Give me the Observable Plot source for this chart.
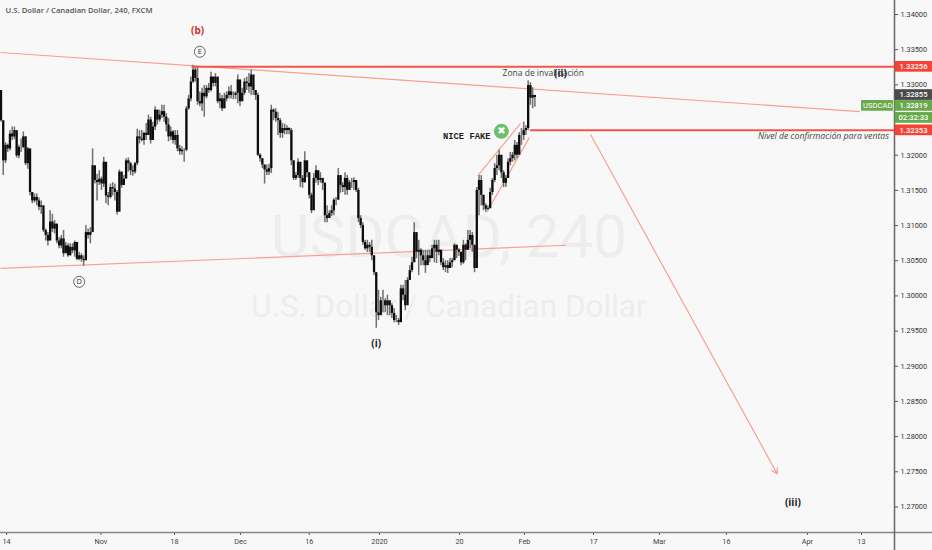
<!DOCTYPE html>
<html>
<head>
<meta charset="utf-8">
<script src="https://cdn.jsdelivr.net/npm/d3@7"></script>
<script src="https://cdn.jsdelivr.net/npm/@observablehq/plot@0.6"></script>
<style>
html,body{margin:0;padding:0;background:#f8f8f8;}
svg{display:block;}
</style>
</head>
<body>
<div id="chart"></div>
<script>
// Prices are quoted in 1/10000 (13292 = 1.3292); one sample every 2 four-hour bars.
const highs = [
13292,13245,13218,13216,13235,13240,13240,13233,13214,13223,
13233,13226,13211,13185,13147,13145,13145,13139,13135,13119,
13095,13090,13121,13116,13107,13102,13083,13086,13093,13076,
13074,13074,13074,13078,13074,13062,13060,13057,13100,13095,
13097,13209,13180,13173,13178,13169,13197,13164,13147,13159,
13161,13159,13150,13179,13164,13171,13195,13196,13190,13185,
13190,13237,13235,13235,13233,13245,13257,13254,13247,13269,
13264,13264,13271,13271,13259,13252,13240,13235,13235,13235,
13214,13212,13209,13269,13285,13311,13328,13326,13326,13290,
13295,13299,13299,13302,13318,13311,13316,13307,13288,13285,
13288,13290,13297,13299,13290,13290,13314,13302,13295,13309,
13311,13316,13321,13302,13292,13288,13202,13195,13186,13186,
13187,13271,13266,13266,13261,13252,13245,13244,13242,13239,
13238,13192,13175,13195,13185,13171,13205,13192,13175,13146,
13174,13185,13175,13175,13167,13161,13128,13121,13128,13138,
13140,13181,13171,13161,13175,13171,13164,13167,13168,13164,
13153,13114,13104,13079,13079,13076,13079,13057,13033,13008,
12998,13008,12996,13001,12993,12989,12982,12972,12968,13015,
13015,13022,13026,13043,13055,13104,13090,13079,13067,13065,
13065,13065,13065,13072,13079,13079,13079,13065,13053,13050,
13050,13053,13053,13074,13072,13067,13062,13079,13074,13093,
13093,13090,13072,13154,13171,13171,13143,13131,13128,13153,
13167,13188,13200,13207,13195,13178,13171,13195,13204,13204,
13221,13218,13232,13238,13247,13242,13306,13303,13296,13285];
const lows = [
13247,13171,13188,13204,13206,13221,13222,13196,13195,13204,
13209,13185,13180,13142,13131,13132,13128,13121,13116,13090,
13078,13071,13081,13090,13088,13074,13067,13067,13055,13062,
13055,13057,13060,13055,13050,13050,13048,13042,13050,13081,
13074,13090,13159,13135,13157,13150,13154,13131,13128,13138,
13142,13135,13115,13140,13153,13159,13171,13176,13171,13170,
13173,13185,13216,13219,13214,13221,13228,13216,13221,13235,
13243,13247,13252,13247,13233,13219,13221,13216,13214,13205,
13200,13200,13190,13205,13264,13276,13302,13304,13271,13269,
13262,13254,13280,13288,13290,13297,13297,13273,13266,13262,
13266,13276,13280,13280,13279,13279,13273,13269,13276,13285,
13292,13288,13285,13285,13278,13198,13190,13181,13159,13171,
13171,13174,13249,13247,13228,13224,13224,13229,13229,13229,
13185,13164,13164,13167,13154,13153,13160,13168,13138,13117,
13146,13160,13157,13160,13150,13104,13104,13111,13113,13114,
13128,13150,13146,13147,13143,13143,13150,13153,13150,13147,
13104,13096,13072,13065,13062,13062,13050,13029,12954,12965,
12972,12976,12976,12972,12972,12968,12962,12962,12958,12962,
12993,12979,13000,13022,13033,13055,13053,13029,13043,13043,
13032,13047,13047,13057,13047,13046,13057,13043,13036,13033,
13032,13039,13040,13050,13053,13056,13043,13045,13050,13065,
13067,13062,13033,13050,13114,13128,13121,13119,13121,13124,
13143,13161,13171,13178,13167,13154,13154,13167,13185,13190,
13192,13195,13207,13214,13221,13228,13235,13271,13266,13268];
const closes = [
13249,13192,13214,13209,13230,13226,13235,13199,13211,13211,
13226,13188,13209,13147,13135,13140,13135,13126,13128,13093,
13086,13078,13105,13095,13102,13078,13071,13081,13060,13071,
13057,13069,13064,13076,13052,13057,13052,13050,13090,13086,
13090,13185,13164,13161,13166,13159,13190,13142,13140,13154,
13152,13147,13119,13176,13157,13166,13192,13188,13178,13176,
13188,13226,13223,13221,13231,13228,13250,13221,13240,13264,
13250,13257,13262,13254,13243,13226,13233,13221,13228,13209,
13205,13207,13207,13266,13280,13304,13321,13309,13276,13273,
13288,13283,13295,13292,13311,13302,13311,13276,13280,13266,
13280,13285,13290,13285,13285,13288,13307,13276,13288,13304,
13302,13297,13314,13292,13285,13200,13195,13186,13179,13176,
13181,13264,13261,13252,13249,13231,13238,13235,13238,13235,
13192,13167,13171,13190,13167,13161,13192,13175,13143,13121,
13167,13178,13164,13167,13160,13114,13110,13117,13121,13136,
13136,13171,13157,13154,13167,13150,13161,13161,13164,13150,
13110,13100,13076,13067,13072,13069,13057,13033,12976,12972,
12993,12993,12986,12993,12986,12975,12965,12965,12962,13010,
13001,12986,13022,13036,13047,13090,13062,13065,13057,13050,
13043,13057,13053,13067,13072,13062,13065,13047,13040,13043,
13039,13047,13050,13072,13065,13062,13047,13072,13065,13079,
13086,13072,13039,13150,13164,13143,13128,13123,13124,13147,
13164,13181,13185,13200,13175,13160,13167,13190,13195,13200,
13214,13200,13228,13228,13235,13238,13299,13281,13285,13282];

const barTicks = [5,89.5,155.3,214.4,276,338.9,410.5,468.7,530.5,589.5,649.5,722,770.4];
const barLabels = ["14","Nov","18","Dec","16","2020","20","Feb","17","Mar","16","Apr","13"];
const priceTicks = [1.34,1.335,1.33,1.32,1.315,1.31,1.305,1.30,1.295,1.29,1.285,1.28,1.275,1.27];

const lineX1 = [-0.45,-0.45,427,435];
const lineY1 = [1.3346,1.3039,1.3171,1.3119];
const lineX2 = [769,506,465,473];
const lineY2 = [1.3262,1.3072,1.3245,1.3225];

const levelPrices = [1.33256,1.32353];
const levelStarts = [171,474];

const waveLabels = ["(b)","(i)","(ii)","(iii)"];
const waveBars = [176,336,501,709];
const wavePrices = [1.33775,1.2932,1.3316,1.2706];
const waveColors = ["#d9302a","#222","#222","#222"];

const circleLabels = ["E","D"];
const circleBars = [178,70];
const circlePrices = [1.3347,1.3020];

const tagLabels = ["1.33256","1.32855","1.32819","02:32:33","1.32353"];
const tagCenters = [1.33256,1.32855,1.32701,1.32530,1.32353];
const tagColors = ["#f44336","#4a4a4a","#68a94a","#68a94a","#f44336"];

const bars = highs.map((h,i)=>({
  bar:i*2,
  high:h/1e4,
  low:lows[i]/1e4,
  open:(i?closes[i-1]:h)/1e4,
  close:closes[i]/1e4
}));
const lines = lineX1.map((x,i)=>({x1:x,y1:lineY1[i],x2:lineX2[i],y2:lineY2[i]}));
const levels = levelPrices.map((p,i)=>({p,start:levelStarts[i]}));
const waves = waveLabels.map((t,i)=>({t,x:waveBars[i],y:wavePrices[i],c:waveColors[i]}));
const circles = circleLabels.map((t,i)=>({t,x:circleBars[i],y:circlePrices[i]}));
const tags = tagLabels.map((t,i)=>({t,y:tagCenters[i],c:tagColors[i]}));

const uiFont = "'Open Sans', sans-serif";
const axisFont = "Roboto, sans-serif";
const salmon = "#f9a092";
const red = "#f4544a";

const chart = Plot.plot({
  width:932,height:550,
  marginLeft:0,marginRight:38,marginTop:0,marginBottom:18,
  style:{background:"#f8f8f8",fontFamily:axisFont},
  x:{domain:[-0.45,800],range:[0,894],label:null},
  y:{domain:[1.26637,1.34199],label:null},
  marks:[
    Plot.text(["USDCAD, 240"],{x:401,y:1.3082,text:d=>d,fontSize:60,fontFamily:axisFont,fill:"#ededed"}),
    Plot.text(["U.S. Dollar / Canadian Dollar"],{x:401,y:1.2985,text:d=>d,fontSize:31.5,fontFamily:axisFont,fill:"#ededed"}),
    Plot.link(lines,{x1:"x1",y1:"y1",x2:"x2",y2:"y2",stroke:salmon,strokeWidth:1.2}),
    Plot.arrow([{x1:528,y1:1.3229,x2:695,y2:1.2747}],{x1:"x1",y1:"y1",x2:"x2",y2:"y2",stroke:salmon,strokeWidth:1.2,bend:0,headLength:8}),
    Plot.ruleX(bars,{x:"bar",y1:"low",y2:"high",stroke:"#707070",strokeWidth:1.5}),
    Plot.ruleX(bars,{x:"bar",y1:"open",y2:"close",stroke:"#0d0d0d",strokeWidth:2.3}),
    Plot.ruleY(levels,{y:"p",x1:"start",x2:800,stroke:red,strokeWidth:2}),
    Plot.text(waves,{x:"x",y:"y",text:"t",fill:"c",fontSize:10,fontWeight:"bold",fontFamily:uiFont}),
    Plot.dot(circles,{x:"x",y:"y",r:5.5,stroke:"#444",strokeWidth:0.8}),
    Plot.text(circles,{x:"x",y:"y",text:"t",fontSize:7.5,fill:"#333",fontFamily:uiFont}),
    Plot.text(["Zona de invalidación"],{x:485.5,y:1.3316,text:d=>d,fontSize:8.5,fill:"#444",fontFamily:uiFont}),
    Plot.text(["NICE FAKE"],{x:417,y:1.3227,text:d=>d,fontSize:8.8,fontWeight:"bold",fill:"#222",fontFamily:"'Liberation Mono', monospace"}),
    Plot.dot([0],{x:448,y:1.3234,r:7.5,fill:"#6cc06a"}),
    Plot.text(["✖"],{x:448,y:1.3234,text:d=>d,fontSize:10,fill:"#fff",fontFamily:"'DejaVu Sans'"}),
    Plot.text(["Nivel de confirmación para ventas"],{x:795,y:1.3227,text:d=>d,textAnchor:"end",fontSize:8.7,fontStyle:"italic",fill:"#444",fontFamily:uiFont}),
    Plot.text(["U.S. Dollar / Canadian Dollar, 240, FXCM"],{frameAnchor:"top-left",dx:5,dy:7,text:d=>d,fontSize:7.7,fontWeight:600,fill:"#555",fontFamily:uiFont}),
    Plot.axisY({anchor:"right",ticks:priceTicks,tickFormat:d=>d.toFixed(5),tickSize:3,tickPadding:3,fontSize:7.3,stroke:"#555",color:"#333",fontFamily:axisFont,label:null}),
    Plot.axisX({ticks:barTicks,tickFormat:d=>barLabels[barTicks.indexOf(d)],tickSize:3,tickPadding:3,fontSize:7.3,stroke:"#555",color:"#444",fontFamily:axisFont,label:null}),
    Plot.ruleY([1.26637],{x1:-0.45,x2:834,stroke:"#888",strokeWidth:1.5}),
    Plot.ruleX([800],{y1:1.34199,y2:1.2588,stroke:"#666",strokeWidth:1.5}),
    Plot.rect(tags,{x1:800.5,x2:834,y1:d=>d.y-0.00076,y2:d=>d.y+0.00076,fill:"c"}),
    Plot.text(tags,{x:817,y:"y",text:"t",fill:"#fff",fontSize:7.6,fontWeight:500,fontFamily:axisFont}),
    Plot.rect(["USDCAD"],{x1:770.5,x2:799,y1:1.32625,y2:1.32777,fill:"#68a94a"}),
    Plot.text(["USDCAD"],{x:785,y:1.32701,text:d=>d,fill:"#fff",fontSize:7.6,fontFamily:axisFont})
  ]
});
document.getElementById("chart").appendChild(chart);
</script>
</body>
</html>
